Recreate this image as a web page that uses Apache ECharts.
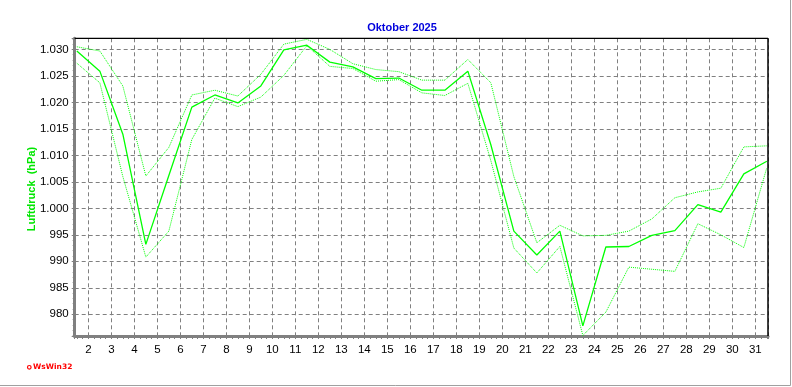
<!DOCTYPE html>
<html>
<head>
<meta charset="utf-8">
<script src="https://cdn.jsdelivr.net/npm/echarts@6/dist/echarts.min.js"></script>
<style>
html,body{margin:0;padding:0;background:#fff;}
#chart{width:792px;height:387px;}
</style>
</head>
<body>
<div id="chart"></div>
<script>
// Days of October 2025 (each daily value plotted at mid-day: day + 0.5)
var days = [1,2,3,4,5,6,7,8,9,10,11,12,13,14,15,16,17,18,19,20,21,22,23,24,25,26,27,28,29,30,31];
// Daily mean air pressure (hPa)
var pressureMean = [1029.7,1025.9,1014.0,993.2,1006.2,1019.1,1021.4,1019.9,1023.1,1029.9,1030.8,1027.6,1026.7,1024.5,1024.6,1022.3,1022.3,1025.9,1012.0,995.7,991.2,995.7,977.8,992.7,992.8,994.9,995.8,1000.7,999.3,1006.5,1008.9];
// Daily maximum air pressure (hPa)
var pressureMax = [1030.5,1029.7,1023.1,1006.1,1011.5,1021.4,1022.3,1021.2,1025.3,1031.0,1031.9,1030.0,1027.3,1026.2,1025.8,1024.2,1024.2,1028.1,1023.7,1006.0,993.5,996.8,994.8,994.9,995.7,998.0,1002.0,1003.1,1003.8,1011.6,1011.8];
// Daily minimum air pressure (hPa)
var pressureMin = [1027.4,1023.7,1006.0,990.8,995.7,1013.0,1020.8,1019.2,1021.0,1025.1,1030.7,1026.8,1026.4,1024.0,1024.3,1021.8,1021.3,1023.6,1009.0,992.5,987.8,992.8,976.0,980.4,988.9,988.5,988.1,997.1,995.0,992.6,1007.7];
var titleText = 'Oktober 2025';
var yAxisTitle = 'Luftdruck  (hPa)';
var logoText = 'WsWin32';

function pairs(vals){ return vals.map(function(v,i){ return [days[i]+0.5, v]; }); }
function fmtY(v){
  if (Math.abs(v/5 - Math.round(v/5)) > 1e-6) return '';
  v = Math.round(v);
  if (v >= 1000) { var r = v - 1000; return '1.' + (r<10?'00':(r<100?'0':'')) + r; }
  return String(v);
}
function fmtX(v){
  return Math.abs(v - Math.round(v)) < 1e-6 ? String(Math.round(v)) : '';
}

var G = {left:74.7, top:38.3, width:693.3, height:297.7};
var chart = echarts.init(document.getElementById('chart'), null, {renderer:'canvas'});
var font = '"Liberation Sans", Arial, sans-serif';
var dash = {type:[4,3], color:'#808080', width:1};

chart.setOption({
  animation:false,
  backgroundColor:'#ffffff',
  title:{
    text:titleText, left:397, top:17, textAlign:'center',
    textStyle:{fontFamily:font, fontSize:11, fontWeight:'bold', color:'#0000dd'}
  },
  grid:{left:G.left, top:G.top, width:G.width, height:G.height, show:false},
  xAxis:{
    type:'value', min:1.407, max:31.55, minInterval:1, maxInterval:1,
    axisLine:{show:true, onZero:false, lineStyle:{color:'#808080', width:3}},
    axisTick:{show:true, length:3, lineStyle:{color:'#808080', width:1}},
    minorTick:{show:true, splitNumber:4, length:3, lineStyle:{color:'#808080', width:1}},
    splitLine:{show:true, lineStyle:dash},
    axisLabel:{formatter:fmtX, margin:8, color:'#000', fontFamily:font, fontSize:11.5,
               showMinLabel:false, showMaxLabel:false, hideOverlap:false}
  },
  yAxis:{
    type:'value', min:975.9, max:1032.1, minInterval:5, maxInterval:5,
    axisLine:{show:true, onZero:false, lineStyle:{color:'#808080', width:3}},
    axisTick:{show:true, length:3, lineStyle:{color:'#808080', width:1}},
    minorTick:{show:true, splitNumber:5, length:2, lineStyle:{color:'#808080', width:1}},
    splitLine:{show:true, lineStyle:dash},
    axisLabel:{formatter:fmtY, margin:6, color:'#000', fontFamily:font, fontSize:11.5,
               showMinLabel:false, showMaxLabel:false}
  },
  series:[
    {type:'line', name:'Max', data:pairs(pressureMax), symbol:'none', silent:true,
     lineStyle:{color:'#00ff00', width:1, type:[1,1]}, z:3},
    {type:'line', name:'Min', data:pairs(pressureMin), symbol:'none', silent:true,
     lineStyle:{color:'#00ff00', width:1, type:[1,1]}, z:3},
    {type:'line', name:'Mittel', data:pairs(pressureMean), symbol:'none', silent:true,
     lineStyle:{color:'#00ff00', width:1.3}, z:4}
  ],
  graphic:[
    {type:'text', z:100, x:32, y:189, rotation:Math.PI/2,
     style:{text:yAxisTitle, fill:'#00e600', font:'bold 11px "Liberation Sans", Arial, sans-serif',
            textAlign:'center', textVerticalAlign:'middle'}},
    {type:'line', z:100, shape:{x1:G.left, y1:G.top, x2:G.left+G.width, y2:G.top},
     style:{stroke:'#000', lineWidth:1.2}},
    {type:'line', z:100, shape:{x1:G.left+G.width, y1:G.top, x2:G.left+G.width, y2:G.top+G.height},
     style:{stroke:'#000', lineWidth:1.5}},
    {type:'line', z:100, shape:{x1:0, y1:385.5, x2:790.5, y2:385.5},
     style:{stroke:'#a0a0a0', lineWidth:1}},
    {type:'line', z:100, shape:{x1:790.5, y1:0, x2:790.5, y2:385.5},
     style:{stroke:'#a0a0a0', lineWidth:1}},
    {type:'circle', z:100, shape:{cx:29.3, cy:367.3, r:1.8},
     style:{stroke:'#ff0000', fill:'#fff', lineWidth:1.2}},
    {type:'text', z:100, x:33, y:367.5,
     style:{text:logoText, fill:'#ff0000', font:'bold 7.5px "DejaVu Sans", sans-serif', textVerticalAlign:'middle'}}
  ]
});
</script>
</body>
</html>
